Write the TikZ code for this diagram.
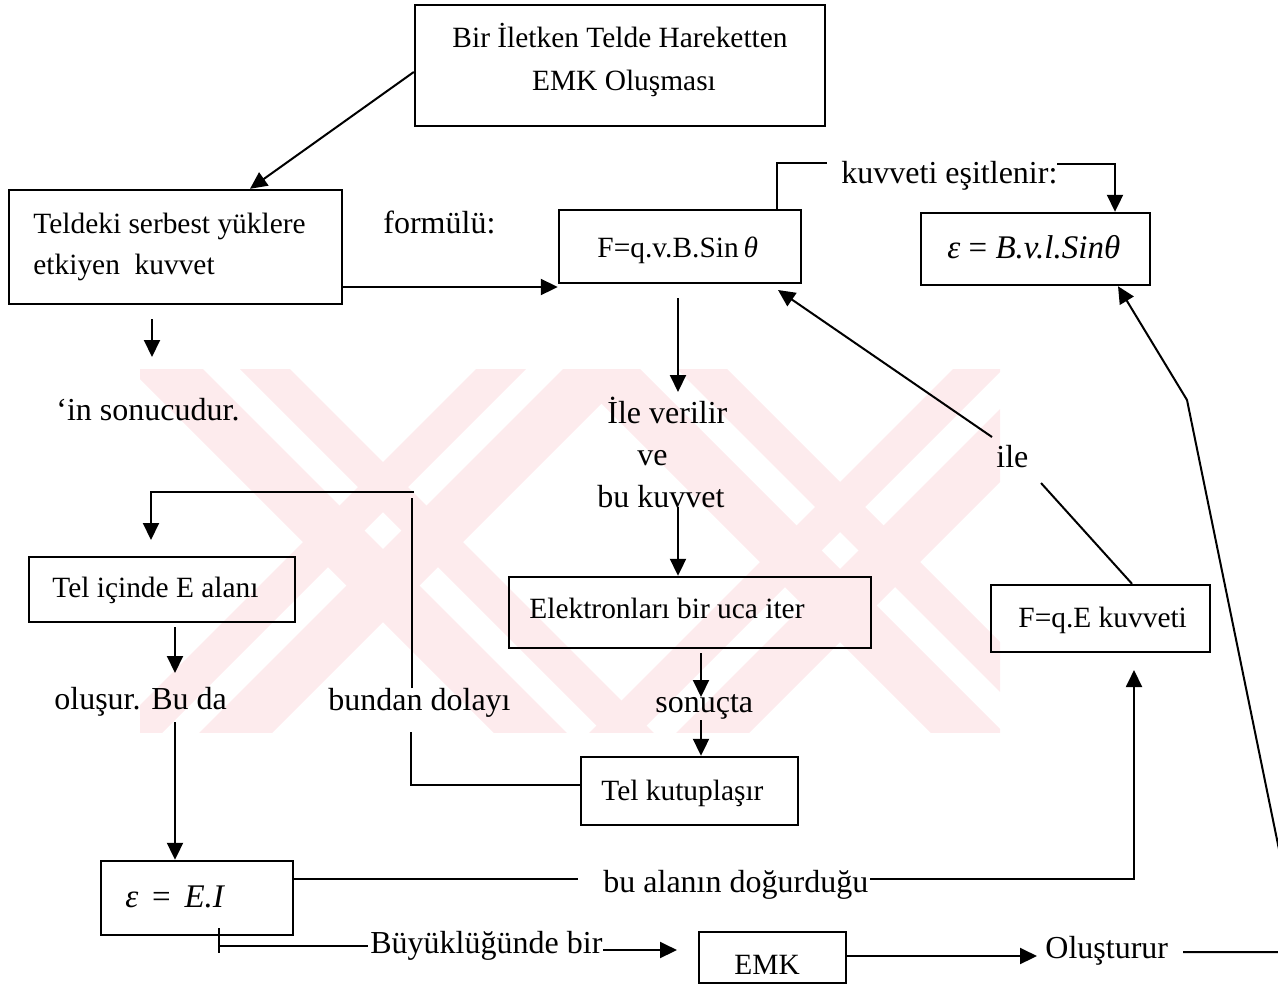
\documentclass[tikz,border=0pt]{standalone}
\usepackage{fontspec}
\setmainfont{Liberation Serif}
\usetikzlibrary{arrows.meta,fit}
\definecolor{wmpink}{RGB}{253,235,237}
\begin{document}
\begin{tikzpicture}[x=0.5pt,y=-0.5pt,
  every node/.style={font=\fontsize{14.7pt}{20pt}\selectfont, inner sep=0pt},
  txt/.style={anchor=base west},
  ctxt/.style={anchor=base},
  free/.style={txt, font=\fontsize{16pt}{20pt}\selectfont},
  formula/.style={txt, font=\fontsize{16.5pt}{20pt}\selectfont},
  box/.style={draw, line width=1.2pt, inner sep=0pt},
  link/.style={line width=1pt},
  arr/.style={link, -{Triangle[length=8.5pt,width=8pt]}}]
\useasboundingbox (0,0) rectangle (1278,986);

% background mark: two striped crosses
\begin{scope}
  \clip (140,369) rectangle (1000,732);
  \fill[wmpink] (61,300) -- (134,300) -- (634,800) -- (561,800) -- cycle;
  \fill[wmpink] (171,300) -- (221,300) -- (721,800) -- (671,800) -- cycle;
  \fill[wmpink] (545,300) -- (595,300) -- (95,800) -- (45,800) -- cycle;
  \fill[wmpink] (632,300) -- (705,300) -- (205,800) -- (132,800) -- cycle;
  \fill[wmpink] (498,300) -- (571,300) -- (1071,800) -- (998,800) -- cycle;
  \fill[wmpink] (608,300) -- (658,300) -- (1158,800) -- (1108,800) -- cycle;
  \fill[wmpink] (1022,300) -- (1072,300) -- (572,800) -- (522,800) -- cycle;
  \fill[wmpink] (1109,300) -- (1182,300) -- (682,800) -- (609,800) -- cycle;
\end{scope}

% boxes
\node[box, fit={(415,5)(825,126)}] (top) {};
\node[box, fit={(9,190)(342,304)}] (teldeki) {};
\node[box, fit={(559,210)(801,283)}] (F) {};
\node[box, fit={(921,213)(1150,285)}] (eps) {};
\node[box, fit={(29,557)(295,622)}] (tic) {};
\node[box, fit={(509,577)(871,648)}] (elek) {};
\node[box, fit={(991,585)(1210,652)}] (qE) {};
\node[box, fit={(581,757)(798,825)}] (tk) {};
\node[box, fit={(101,861)(293,935)}] (eEI) {};
\node[box, fit={(699,932)(846,983)}] (emk) {};

% texts
\node[ctxt] (t1a) at (620,47) {Bir İletken Telde Hareketten};
\node[ctxt] (t1b) at (624,90) {EMK Oluşması};
\node[txt] (t2a) at (33,233) {Teldeki serbest yüklere};
\node[txt] (t2b) at (33,274) {etkiyen~ kuvvet};
\node[free] (t3) at (383,233) {formülü:};
\node[txt] (t4) at (597,257) {F=q.v.B.Sin\,\textit{θ}};
\node[free] (t5) at (841,183) {kuvveti eşitlenir:};
\node[formula] (t6) at (947,258) {\textit{ε} = \textit{B.v.l.Sinθ}};
\node[free] (sonuc) at (56,420) {‘in sonucudur.};
\node[free] (t8) at (607,423) {İle verilir};
\node[free] (t9) at (637,465) {ve};
\node[free] (t10) at (597,507) {bu kuvvet};
\node[free] (t11) at (996,467) {ile};
\node[txt] (t12) at (52,597) {Tel içinde E alanı};
\node[txt] (t13) at (529,618) {Elektronları bir uca iter};
\node[txt] (t14) at (1018,627) {F=q.E kuvveti};
\node[free] (t15) at (54,709) {oluşur. Bu da};
\node[free] (t16) at (328,710) {bundan dolayı};
\node[free] (t17) at (655,712) {sonuçta};
\node[txt] (t18) at (601,800) {Tel kutuplaşır};
\node[formula] (t19) at (125,907) {\textit{ε}\ \,=\ \,\textit{E.I}};
\node[free] (t20) at (603,892) {bu alanın doğurduğu};
\node[free] (t21) at (370,953) {Büyüklüğünde bir};
\node[txt] (t22) at (734,974) {EMK};
\node[free] (t23) at (1045,958) {Oluşturur};

% connector end points
\coordinate (a1) at (152,357);
\coordinate (a2) at (678,392);
\coordinate (a3) at (678,507);
\coordinate (a4) at (701,697);
\coordinate (a5) at (701,720);
\coordinate (a6) at (411,732);
\coordinate (a7) at (412,688);
\coordinate (a8) at (412,498);
\coordinate (a9) at (414,492);
\coordinate (a10) at (151,540);
\coordinate (a11) at (175,673);
\coordinate (a12) at (175,722);
\coordinate (a13) at (578,879);
\coordinate (a14) at (870,879);
\coordinate (a15) at (1134,670);
\coordinate (a16) at (219,928);
\coordinate (a17) at (219,953);
\coordinate (a18) at (219,946);
\coordinate (a19) at (368,946);
\coordinate (a20) at (603,950);
\coordinate (a21) at (677,950);
\coordinate (a22) at (1037,956);
\coordinate (a23) at (1183,952);
\coordinate (a24) at (1300,952);
\coordinate (a25) at (1187,400);
\coordinate (a26) at (1118,287);
\coordinate (a27) at (1132,585);
\coordinate (a28) at (1041,483);
\coordinate (a29) at (992,437);
\coordinate (a30) at (778,290);
\coordinate (k0) at (777,0);
\coordinate (k1) at (827,163);
\coordinate (k2) at (1057,164);
\coordinate (k3) at (1115,0);
\coordinate (y72) at (0,72);
\coordinate (x250) at (250,0);
\coordinate (y287) at (0,287);
\coordinate (y785) at (0,785);

% connectors
\draw[arr] (top.west |- y72) -- (teldeki.north -| x250);
\draw[arr] (teldeki.east |- y287) -- (F.west |- y287);
\draw[arr, shorten <=7pt] (teldeki.south -| a1) -- (a1);
\draw[link] (F.north -| k0) |- (k1);
\draw[arr] (k2) -| (eps.north -| k3);
\draw[arr, shorten <=7pt] (F.south -| a2) -- (a2);
\draw[arr] (a3) -- (elek.north -| a3);
\draw[arr, shorten <=2pt] (elek.south -| a4) -- (a4);
\draw[arr] (a5) -- (tk.north -| a5);
\draw[link] (tk.west |- y785) -| (a6);
\draw[link] (a7) -- (a8);
\draw[arr] (a9) -| (a10);
\draw[arr, shorten <=2pt] (tic.south -| a11) -- (a11);
\draw[arr] (a12) -- (eEI.north -| a12);
\draw[link] (eEI.east |- a13) -- (a13);
\draw[arr] (a14) -| (a15);
\draw[link] (a16) -- (a17);
\draw[link] (a18) -- (a19);
\draw[arr] (a20) -- (a21);
\draw[arr] (emk.east |- a22) -- (a22);
\draw[arr] (a23) -- (a24) -- (a25) -- (eps.south -| a26);
\draw[link] (qE.north -| a27) -- (a28);
\draw[arr] (a29) -- (a30);
\end{tikzpicture}
\end{document}
